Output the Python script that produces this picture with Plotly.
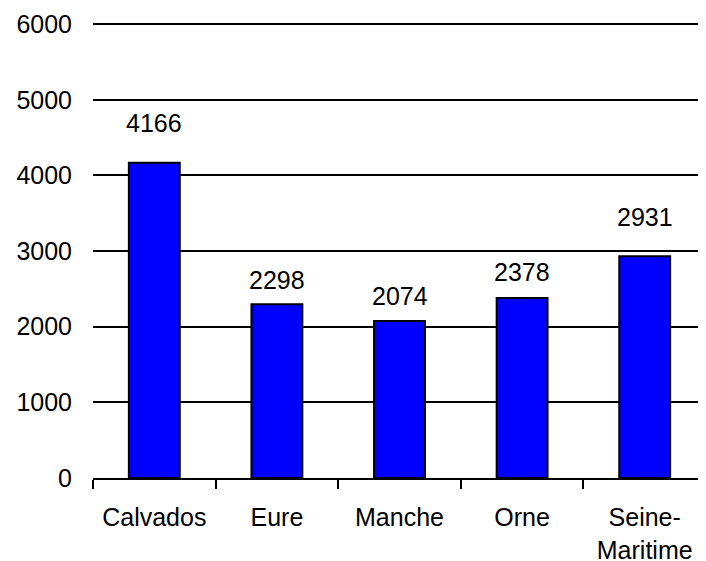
import plotly.graph_objects as go

categories = ["Calvados", "Eure", "Manche", "Orne", "Seine-<br>Maritime"]
values = [4166, 2298, 2074, 2378, 2931]
y_ticks = [0, 1000, 2000, 3000, 4000, 5000, 6000]

# label offsets above bar tops (px), style only
label_offsets = [40, 24, 25, 26, 39]

FONT = dict(family="Liberation Sans, Arial, sans-serif", size=25, color="black")

fig = go.Figure()
fig.add_trace(go.Bar(
    x=categories, y=values,
    marker=dict(color="#0000FF", line=dict(color="black", width=2)),
    hoverinfo="skip",
))

for c, v, off in zip(categories, values, label_offsets):
    fig.add_annotation(x=c, y=v, text=str(v), showarrow=False,
                       yanchor="middle", yshift=off, font=FONT)

# page body has an 8px default margin; figure sized to fit the 706x561 window
fig.update_layout(
    width=698, height=553,
    margin=dict(l=85, r=0, t=15, b=83),
    paper_bgcolor="white", plot_bgcolor="white",
    bargap=0.585,
    showlegend=False,
    font=FONT,
)
fig.update_xaxes(
    type="category", automargin=False,
    showline=True, linecolor="black", linewidth=2,
    ticks="outside", tickson="boundaries", ticklen=9, tickwidth=2, tickcolor="black",
    showgrid=False, tickfont=FONT, ticklabelstandoff=16,
)
fig.update_yaxes(
    range=[0, 6015], tickvals=y_ticks, ticktext=[str(t) for t in y_ticks],
    automargin=False,
    showgrid=True, gridcolor="black", gridwidth=2,
    zeroline=False, showline=False, ticks="",
    tickfont=FONT, ticklabelstandoff=20,
)

fig.write_html("out.html")
